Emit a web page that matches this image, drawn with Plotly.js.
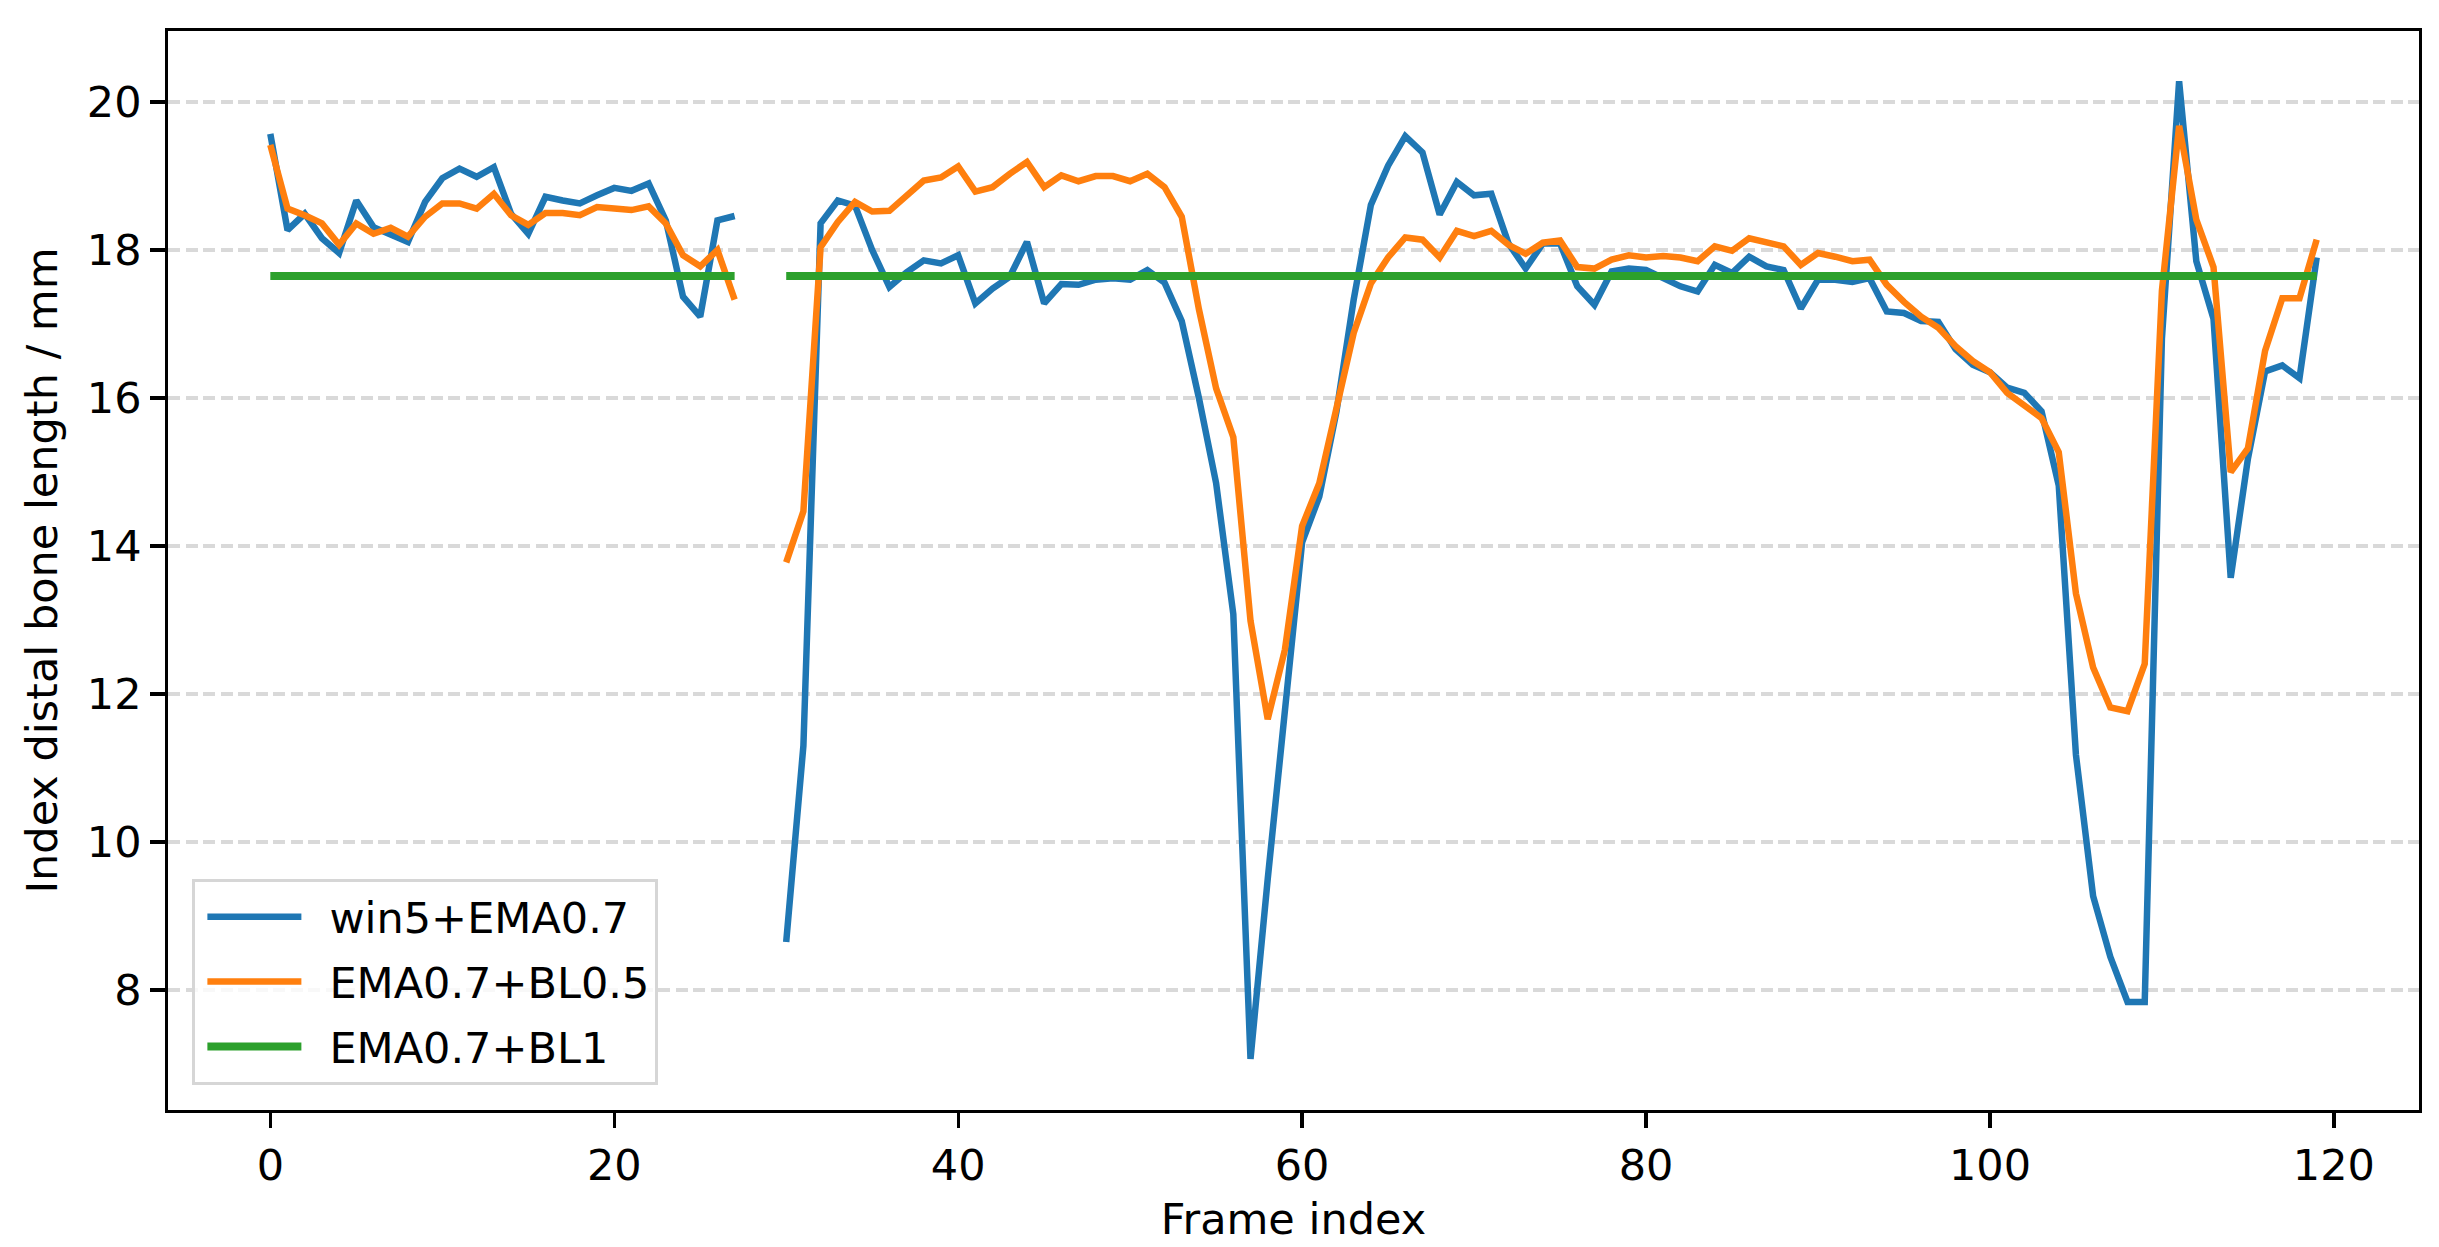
<!DOCTYPE html>
<html>
<head>
<meta charset="utf-8">
<script src="https://cdn.plot.ly/plotly-3.0.1.min.js"></script>
<style>html,body{margin:0;padding:0;background:#fff;}#chart{width:2439px;height:1247px;}</style>
</head>
<body>
<div id="chart"></div>
<script>
// Frame indices 0..119 (frames 28 and 29 missing)
const frames = Array.from({length: 120}, (_, i) => i);

const seriesNames = ["win5+EMA0.7", "EMA0.7+BL0.5", "EMA0.7+BL1"];

const win5EMA = [
  19.57, 18.27, 18.49, 18.16, 17.96, 18.67, 18.31, 18.20, 18.11, 18.65,
  18.97, 19.10, 18.99, 19.12, 18.49, 18.22, 18.72, 18.67, 18.63, 18.74,
  18.84, 18.80, 18.90, 18.40, 17.37, 17.10, 18.40, 18.46, null, null,
  8.65, 11.30, 18.36, 18.67, 18.60, 18.00, 17.50, 17.70, 17.86, 17.82,
  17.93, 17.28, 17.48, 17.64, 18.11, 17.28, 17.54, 17.53, 17.60, 17.62,
  17.60, 17.73, 17.56, 17.04, 16.00, 14.85, 13.08, 7.07, 9.50, 11.70,
  14.05, 14.67, 15.82, 17.33, 18.61, 19.14, 19.54, 19.32, 18.48, 18.92,
  18.74, 18.76, 18.09, 17.75, 18.09, 18.09, 17.51, 17.26, 17.71, 17.75,
  17.73, 17.62, 17.51, 17.44, 17.80, 17.69, 17.91, 17.78, 17.73, 17.21,
  17.60, 17.60, 17.57, 17.62, 17.17, 17.15, 17.04, 17.03, 16.66, 16.45,
  16.35, 16.14, 16.07, 15.82, 14.82, 11.18, 9.27, 8.45, 7.84, 7.84,
  16.80, 20.28, 17.85, 17.07, 13.57, 15.18, 16.36, 16.44, 16.27, 17.90
];

const emaBL05 = [
  19.42, 18.56, 18.47, 18.36, 18.07, 18.36, 18.22, 18.30, 18.18, 18.45,
  18.63, 18.63, 18.56, 18.76, 18.47, 18.34, 18.50, 18.50, 18.47, 18.58,
  18.56, 18.54, 18.59, 18.36, 17.93, 17.78, 18.00, 17.33, null, null,
  13.78, 14.47, 18.04, 18.38, 18.65, 18.52, 18.53, 18.73, 18.94, 18.98,
  19.13, 18.79, 18.85, 19.03, 19.19, 18.85, 19.01, 18.93, 19.00, 19.00,
  18.93, 19.03, 18.85, 18.45, 17.20, 16.13, 15.47, 12.99, 11.66, 12.60,
  14.27, 14.85, 15.82, 16.88, 17.55, 17.90, 18.17, 18.14, 17.90, 18.26,
  18.19, 18.26, 18.07, 17.95, 18.10, 18.13, 17.77, 17.75, 17.87, 17.93,
  17.90, 17.92, 17.90, 17.85, 18.05, 17.99, 18.16, 18.11, 18.05, 17.80,
  17.96, 17.91, 17.85, 17.87, 17.53, 17.30, 17.10, 16.95, 16.70, 16.50,
  16.35, 16.07, 15.91, 15.73, 15.27, 13.36, 12.36, 11.82, 11.77, 12.41,
  17.45, 19.68, 18.41, 17.77, 15.00, 15.32, 16.64, 17.35, 17.35, 18.14
];

// constant baseline (same gap at frames 28-29)
const blValue = 17.65;
const missingFrames = [28, 29];
const emaBL1 = frames.map(f => missingFrames.includes(f) ? null : blValue);

const xTicks = [0, 20, 40, 60, 80, 100, 120];
const yTicks = [8, 10, 12, 14, 16, 18, 20];

const colors = ["#1f77b4", "#ff7f0e", "#2ca02c"];
const FONT = "DejaVu Sans, Liberation Sans, sans-serif";
const FS = 43;

const traces = [
  {x: frames, y: win5EMA, name: seriesNames[0], mode: "lines", connectgaps: false, legendgroup: "a",
   line: {color: colors[0], width: 6.5}},
  {x: frames, y: emaBL05, name: seriesNames[1], mode: "lines", connectgaps: false, legendgroup: "b",
   line: {color: colors[1], width: 6.5}},
  {x: frames, y: emaBL1, name: seriesNames[2], mode: "lines", connectgaps: false, legendgroup: "c",
   line: {color: colors[2], width: 8}}
];

const layout = {
  width: 2439, height: 1247,
  margin: {l: 168, r: 20, t: 31, b: 137, pad: 0},
  paper_bgcolor: "#ffffff", plot_bgcolor: "#ffffff",
  font: {family: FONT, size: FS, color: "#000000"},
  showlegend: true,
  xaxis: {
    range: [-5.95, 124.95], tickvals: xTicks, ticktext: xTicks.map(String),
    ticks: "outside", ticklen: 14.6, tickwidth: 3.3, tickcolor: "#000",
    showline: true, linewidth: 3.3, linecolor: "#000", mirror: true,
    showgrid: false, zeroline: false, automargin: false,
    tickfont: {family: FONT, size: FS, color: "#000"},
    title: {text: "Frame index", font: {family: FONT, size: FS, color: "#000"}, standoff: 16}
  },
  yaxis: {
    range: [6.38, 20.96], tickvals: yTicks, ticktext: yTicks.map(String),
    ticks: "outside", ticklen: 14.6, tickwidth: 3.3, tickcolor: "#000",
    showline: true, linewidth: 3.3, linecolor: "#000", mirror: true,
    showgrid: true, gridcolor: "#d9d9d9", gridwidth: 3.3, griddash: "12px,5.5px",
    zeroline: false, automargin: false,
    tickfont: {family: FONT, size: FS, color: "#000"},
    title: {text: "Index distal bone length / mm", font: {family: FONT, size: FS, color: "#000"}, standoff: 16}
  },
  legend: {
    x: 0.0107, y: 0.0232, xanchor: "left", yanchor: "bottom",
    bgcolor: "rgba(255,255,255,0.8)", bordercolor: "#d6d6d6", borderwidth: 3.3,
    font: {family: FONT, size: FS, color: "#000"},
    itemwidth: 124, tracegroupgap: 6
  }
};

Plotly.newPlot("chart", traces, layout, {staticPlot: true, displayModeBar: false}).then(function () {
  // lengthen the legend line samples to match the reference's handle length
  document.querySelectorAll("#chart .legendlines path").forEach(function (p) {
    p.setAttribute("d", "M12,0h94");
  });
});
</script>
</body>
</html>
